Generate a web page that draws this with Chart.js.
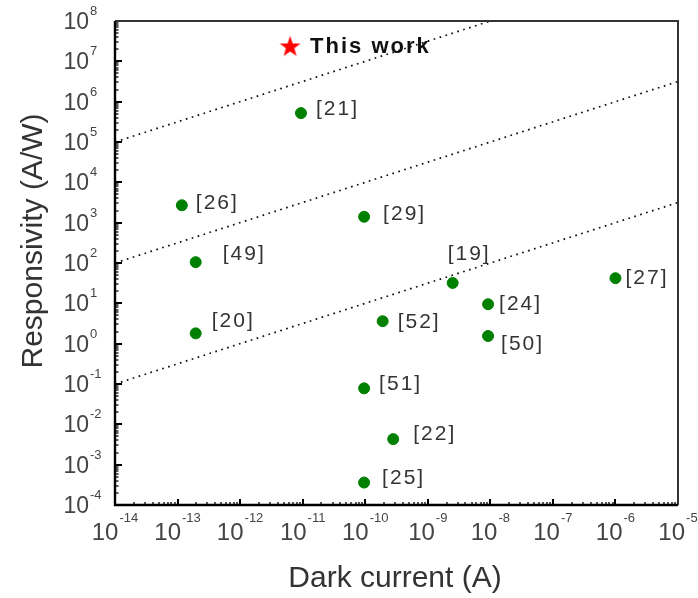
<!DOCTYPE html>
<html>
<head>
<meta charset="utf-8">
<script src="https://cdn.jsdelivr.net/npm/chart.js@4/dist/chart.umd.min.js"></script>
<style>
  html, body { margin: 0; padding: 0; background: #ffffff; }
  #wrap { width: 698px; height: 598px; }
</style>
</head>
<body>
<div id="wrap"><canvas id="chart" width="698" height="598"></canvas></div>
<script>
// Reported photodetectors: dark current (A) vs responsivity (A/W)
const refLabels    = ['[21]', '[26]', '[49]', '[20]', '[29]', '[19]', '[52]', '[24]', '[50]', '[27]', '[51]', '[22]', '[25]'];
const darkCurrent  = [9.4e-12, 1.17e-13, 1.95e-13, 1.95e-13, 9.6e-11, 2.5e-9, 1.9e-10, 9.2e-9, 9.2e-9, 1.0e-6, 9.6e-11, 2.8e-10, 9.6e-11];
const responsivity = [5.2e5, 2.7e3, 105, 1.8, 1.4e3, 32, 3.6, 9.5, 1.55, 42, 0.078, 0.0043, 3.6e-4];

// This device
const thisWorkLabel = 'This work';
const thisWorkCurrent = [6.3e-12];
const thisWorkResp = [2.4e7];

// Guide lines (R proportional to sqrt of dark current)
const guideCurrent = [[1e-14, 1e-8], [1e-14, 1e-5], [1e-14, 1e-5]];
const guideResp    = [[1e5, 1e8], [1e2, 3.16e6], [1e-1, 3.16e3]];

// Axis ranges / tick exponents
const xExponents = [-14, -13, -12, -11, -10, -9, -8, -7, -6, -5];
const yExponents = [-4, -3, -2, -1, 0, 1, 2, 3, 4, 5, 6, 7, 8];

const xTitle = 'Dark current (A)';
const yTitle = 'Responsivity (A/W)';

// Label placement relative to each marker (pixels: left edge, vertical centre)
const labelOffsets = [[15, -5], [14, -3], [27, -9], [16, -13], [19, -4], [-5, -30], [15, 0], [11, -1], [13, 7], [10, -1], [15, -5], [20, -6], [18, -5]];

const FONT = '"Liberation Sans", Arial, Helvetica, sans-serif';

// Filled red star marker
function makeStar(size, color) {
  const c = document.createElement('canvas');
  c.width = size; c.height = size;
  const g = c.getContext('2d');
  const cx = size / 2, cy = size / 2 + 1;
  const ro = size / 2 - 0.5, ri = ro * 0.4;
  g.beginPath();
  for (let i = 0; i < 10; i++) {
    const r = i % 2 === 0 ? ro : ri;
    const a = -Math.PI / 2 + i * Math.PI / 5;
    const x = cx + r * Math.cos(a), y = cy + r * Math.sin(a);
    if (i === 0) g.moveTo(x, y); else g.lineTo(x, y);
  }
  g.closePath();
  g.fillStyle = color;
  g.fill();
  return c;
}
const starMarker = makeStar(23, '#ff0000');

const refPoints = darkCurrent.map((x, i) => ({ x: x, y: responsivity[i] }));
const starPoints = thisWorkCurrent.map((x, i) => ({ x: x, y: thisWorkResp[i] }));

const guideSets = guideCurrent.map((xs, k) => ({
  type: 'line',
  data: xs.map((x, i) => ({ x: x, y: guideResp[k][i] })),
  borderColor: '#111111',
  borderWidth: 1.7,
  borderDash: [1.7, 4.5],
  pointRadius: 0,
  fill: false,
  tension: 0
}));

// Frame, ticks, tick labels, titles and marker labels
const decorPlugin = {
  id: 'decor',
  afterDatasetsDraw(chart) {
    const ctx = chart.ctx;
    const a = chart.chartArea;
    const xs = chart.scales.x, ys = chart.scales.y;
    ctx.save();

    // box
    ctx.strokeStyle = '#333333';
    ctx.lineWidth = 2;
    ctx.beginPath();
    ctx.moveTo(a.left, a.top); ctx.lineTo(a.right, a.top); ctx.lineTo(a.right, a.bottom);
    ctx.stroke();
    ctx.strokeStyle = '#000000';
    ctx.lineWidth = 2.4;
    ctx.beginPath();
    ctx.moveTo(a.left, a.top); ctx.lineTo(a.left, a.bottom); ctx.lineTo(a.right, a.bottom);
    ctx.stroke();

    // inward ticks
    ctx.strokeStyle = '#000000';
    for (let e = xExponents[0]; e < xExponents[xExponents.length - 1]; e++) {
      for (let m = 1; m <= 9; m++) {
        const px = Math.round(xs.getPixelForValue(m * Math.pow(10, e)));
        const len = m === 1 ? 6 : 3;
        ctx.lineWidth = m === 1 ? 2 : 1.3;
        ctx.beginPath(); ctx.moveTo(px, a.bottom); ctx.lineTo(px, a.bottom - len); ctx.stroke();
      }
    }
    for (let e = yExponents[0]; e < yExponents[yExponents.length - 1]; e++) {
      for (let m = 1; m <= 9; m++) {
        const py = Math.round(ys.getPixelForValue(m * Math.pow(10, e)));
        const len = m === 1 ? 7 : 3.5;
        ctx.lineWidth = m === 1 ? 2 : 1.3;
        ctx.beginPath(); ctx.moveTo(a.left, py); ctx.lineTo(a.left + len, py); ctx.stroke();
      }
    }

    // tick labels 10^n
    ctx.fillStyle = '#444444';
    ctx.textBaseline = 'alphabetic';
    const expFont = '13px ' + FONT;
    xExponents.forEach(e => {
      const px = xs.getPixelForValue(Math.pow(10, e));
      const baseFont = '24px ' + FONT;
      ctx.font = baseFont; const wb = ctx.measureText('10').width;
      ctx.font = expFont; const we = ctx.measureText(String(e)).width;
      const x0 = px - (wb + we + 1) / 2;
      ctx.font = baseFont; ctx.textAlign = 'left'; ctx.fillText('10', x0, a.bottom + 35);
      ctx.font = expFont; ctx.fillText(String(e), x0 + wb + 1, a.bottom + 17);
    });
    yExponents.forEach(e => {
      const py = ys.getPixelForValue(Math.pow(10, e));
      ctx.font = '23px ' + FONT; ctx.textAlign = 'right'; ctx.fillText('10', 89, py + 8);
      ctx.font = expFont; ctx.textAlign = 'left'; ctx.fillText(String(e), 90, py - 6);
    });

    // axis titles
    ctx.fillStyle = '#333333';
    ctx.font = '30px ' + FONT;
    ctx.textAlign = 'center';
    ctx.textBaseline = 'alphabetic';
    ctx.fillText(xTitle, 395, 587);
    ctx.save();
    ctx.translate(42, 241);
    ctx.rotate(-Math.PI / 2);
    ctx.fillText(yTitle, 0, 0);
    ctx.restore();

    // reference labels
    ctx.font = '21px ' + FONT;
    ctx.textAlign = 'left';
    ctx.textBaseline = 'middle';
    ctx.fillStyle = '#333333';
    if ('letterSpacing' in ctx) ctx.letterSpacing = '2px';
    refLabels.forEach((t, i) => {
      const px = xs.getPixelForValue(darkCurrent[i]);
      const py = ys.getPixelForValue(responsivity[i]);
      ctx.fillText(t, px + labelOffsets[i][0], py + labelOffsets[i][1] + 1);
    });

    // this-work label
    ctx.font = 'bold 22px ' + FONT;
    ctx.fillStyle = '#111111';
    if ('letterSpacing' in ctx) ctx.letterSpacing = '2px';
    const sx = xs.getPixelForValue(thisWorkCurrent[0]);
    const sy = ys.getPixelForValue(thisWorkResp[0]);
    ctx.fillText(thisWorkLabel, sx + 20, sy + 1);
    if ('letterSpacing' in ctx) ctx.letterSpacing = '0px';

    ctx.restore();
  }
};

new Chart(document.getElementById('chart'), {
  type: 'scatter',
  data: {
    datasets: [
      ...guideSets,
      {
        type: 'scatter',
        data: refPoints,
        backgroundColor: '#008000',
        borderColor: '#008000',
        borderWidth: 1,
        pointStyle: 'circle',
        pointRadius: 5.5
      },
      {
        type: 'scatter',
        data: starPoints,
        pointStyle: starMarker,
        pointRadius: 11
      }
    ]
  },
  options: {
    responsive: false,
    animation: false,
    events: [],
    layout: { padding: { left: 115, top: 21, right: 20, bottom: 93 } },
    plugins: {
      legend: { display: false },
      tooltip: { enabled: false },
      title: { display: false }
    },
    scales: {
      x: {
        type: 'logarithmic',
        min: 1e-14,
        max: 1e-5,
        grid: { display: false },
        border: { display: false },
        ticks: { display: false },
        afterFit(scale) { scale.height = 0; scale.paddingLeft = 0; scale.paddingRight = 0; }
      },
      y: {
        type: 'logarithmic',
        min: 1e-4,
        max: 1e8,
        grid: { display: false },
        border: { display: false },
        ticks: { display: false },
        afterFit(scale) { scale.width = 0; scale.paddingTop = 0; scale.paddingBottom = 0; }
      }
    }
  },
  plugins: [decorPlugin]
});
</script>
</body>
</html>
